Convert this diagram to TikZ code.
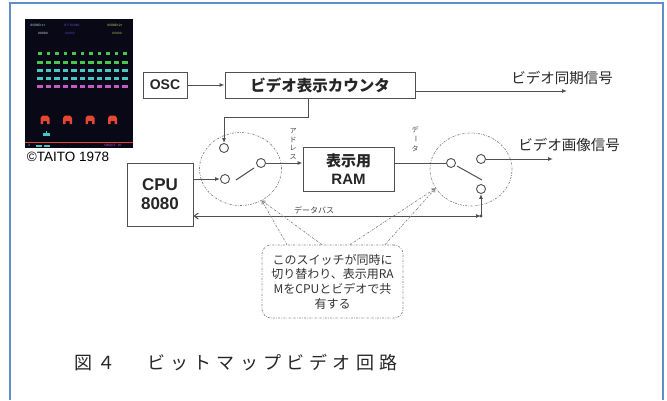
\documentclass[tikz,border=0pt]{standalone}
\usepackage{fontspec}
\setmainfont{Liberation Sans}
\newfontfamily\jp{Noto Sans CJK JP}
\newfontfamily\jpwide[LetterSpace=29]{Noto Sans CJK JP}
\usetikzlibrary{arrows.meta,shapes.geometric}

\definecolor{frameblue}{RGB}{95,142,205}
\definecolor{wiregray}{RGB}{80,80,80}
\definecolor{screenblack}{RGB}{8,8,22}
\definecolor{invgreen}{RGB}{70,200,80}
\definecolor{invcyan}{RGB}{70,200,200}
\definecolor{invpink}{RGB}{200,90,200}
\definecolor{invblue}{RGB}{90,80,200}
\definecolor{invyellow}{RGB}{210,210,90}
\definecolor{shieldred}{RGB}{230,70,50}

\tikzset{
  box/.style={draw=wiregray, line width=1pt, fill=white, inner sep=0pt, text=black!85},
  wire/.style={draw=wiregray, line width=1pt},
  arr/.style={-{Latex[length=5pt,width=4pt]}},
  term/.style={circle, draw=wiregray, line width=0.9pt, fill=white, minimum size=9pt, inner sep=0pt},
  selector/.style={ellipse, draw=gray, line width=0.7pt, dash pattern=on 2pt off 1.3pt on 0.6pt off 1.3pt,
    minimum width=82pt, minimum height=73pt, inner sep=0pt},
  remark/.style={draw=gray, line width=0.7pt, dash pattern=on 2pt off 1.3pt on 0.6pt off 1.3pt},
  scoretxt/.style={inner sep=0pt, font=\ttfamily\fontsize{3.6}{4}\selectfont},
  vlabel/.style={inner sep=0pt, text=black!75, font=\jp\fontsize{7}{7}\selectfont},
}

\begin{document}
\begin{tikzpicture}[x=1pt,y=-1pt]
\useasboundingbox (0,0) rectangle (667,400);
% frame
\draw[frameblue, line width=1.6pt] (10,400) -- (10,3) -- (663,3) -- (663,400);

% game screen
\fill[screenblack] (25,19) rectangle (133,148);
\node[scoretxt, text=invcyan!50!white] (score1) at (38,25) {SCORE<1>};
\node[scoretxt, text=invblue] (hiscore) at (72,25) {HI-SCORE};
\node[scoretxt, text=invyellow] (score2) at (115,25) {SCORE<2>};
\node[scoretxt, text=white] (pts1) at (43,33) {00000};
\node[scoretxt, text=invblue] (ptshi) at (70,33) {00000};
\node[scoretxt, text=invyellow] (pts2) at (117,33) {00000};
\foreach \y/\c/\w in {53/invgreen/3.5,62/invgreen/5.5,70/invcyan/5.5,78/invcyan/5.5,86/invpink/5.5}
  \foreach \i in {0,...,10}
    \fill[\c] (40+8.5*\i-\w/2,\y-1.5) rectangle ++(\w,3);
\foreach \x in {45,67.5,90,112.5}
  \fill[shieldred] (\x-4.5,124) -- (\x-4.5,118) -- (\x-2.5,115.5) -- (\x+2.5,115.5) -- (\x+4.5,118)
    -- (\x+4.5,124) -- (\x+2,124) -- (\x+2,121) -- (\x-2,121) -- (\x-2,124) -- cycle;
\fill[invcyan] (43,133) rectangle (50,135.5);
\fill[invcyan] (45.7,131.3) rectangle (47.3,133);
\draw[shieldred, line width=0.8pt] (25,142) -- (133,142);
\node[scoretxt, text=invcyan] (lives) at (29,145.5) {3};
\foreach \x in {36,44}
  \fill[invcyan] (\x,145) rectangle ++(6,2);
\node[scoretxt, text=invpink] (credit) at (113,145.5) {CREDIT 00};
\node[inner sep=0pt, font=\fontsize{13.5}{14}\selectfont] (taito) at (68,157) {©TAITO 1978};

% blocks
\node[box, minimum width=44pt, minimum height=26pt, font=\bfseries\fontsize{14}{16}\selectfont] (osc) at (165,85) {OSC};
\node[box, minimum width=190pt, minimum height=26pt, font=\jp\bfseries\fontsize{15.5}{17}\selectfont] (cnt) at (320,85) {ビデオ表示カウンタ};
\node[box, minimum width=66pt, minimum height=63pt, align=center, font=\bfseries\fontsize{17}{19}\selectfont] (cpu) at (160,194.5) {CPU\\8080};
\node[box, minimum width=91pt, minimum height=44pt, align=center, font=\bfseries\fontsize{15}{18}\selectfont] (ram) at (348.5,169) {{\jp 表示用}\\RAM};

% switches
\node[selector] (selL) at (240.5,169) {};
\node[selector] (selR) at (471,169.5) {};
\node[term] (swLa) at (224,148) {};
\node[term] (swLb) at (225,179) {};
\node[term] (swLc) at (261,163) {};
\node[term] (swRa) at (451,163) {};
\node[term] (swRb) at (481,159) {};
\node[term] (swRc) at (481,189) {};
\draw[wire] (236,180) -- (254,168);
\draw[wire] (457,166) -- (482,180);

% signals
\coordinate (sync) at (567,91);
\coordinate (vout) at (553,159);
\coordinate (busR) at (481,216);
\draw[wire, arr] (osc) -- (cnt);
\draw[wire, arr] ([yshift=-6pt]cnt.east) -- (sync);
\draw[wire, arr] ([xshift=-12pt]cnt.south) -- ++(0,19) -| (swLa.north);
\draw[wire, arr] (cpu.east |- swLb) -- (swLb);
\draw[wire, arr] (swLc) -- (swLc -| ram.west);
\draw[wire] (swRa -| ram.east) -- (swRa);
\draw[wire, arr] (swRb) -- (vout);
\draw[wire, {Straight Barb[length=4pt,width=6pt]}-{Latex[length=5pt,width=4pt]}] (busR -| cpu.east) -- (busR);
\fill[wiregray] (busR) circle (1.6);
\draw[wire, arr] (busR) -- (swRc);

\node[inner sep=0pt, text=black!85, font=\jp\fontsize{14.5}{16}\selectfont] (synctxt) at (562,78) {ビデオ同期信号};
\node[inner sep=0pt, text=black!85, font=\jp\fontsize{14.5}{16}\selectfont] (vouttxt) at (569,145) {ビデオ画像信号};
\node[inner sep=0pt, text=black!75, font=\jp\fontsize{8}{8}\selectfont] (bustxt) at (314,210) {データバス};
\node[vlabel] (addrtxt) at (293,144) {\shortstack{ア\\ド\\レ\\ス}};
\node[vlabel] (datatxt) at (415,139) {\shortstack{デ\\\rotatebox{-90}{ー}\\タ}};

% remark on the shared RAM
\node[remark, rounded corners=9pt, minimum width=141pt, minimum height=73pt, align=center, inner sep=0pt,
  text=black!80, font=\jp\fontsize{12}{14.7}\selectfont] (note) at (332.5,281.5)
  {このスイッチが同時に\\切り替わり、表示用RA\\MをCPUとビデオで共\\有する};
\draw[remark, -{Straight Barb[length=3pt,width=4pt]}] ([xshift=-45.5pt]note.north) -- (selL.-56);
\draw[remark, -{Straight Barb[length=3pt,width=4pt]}] ([xshift=-10.5pt]note.north) -- (selL.-56);
\draw[remark, -{Straight Barb[length=3pt,width=4pt]}] ([xshift=17.5pt]note.north) -- (selR.208);
\draw[remark, -{Straight Barb[length=3pt,width=4pt]}] ([xshift=52.5pt]note.north) -- (selR.208);

% caption
\node[anchor=west, inner sep=0pt, text=black!85, font=\jpwide\fontsize{18}{20}\selectfont] (fignum) at (74,363) {図４};
\node[anchor=west, inner sep=0pt, text=black!85, font=\jpwide\fontsize{18}{20}\selectfont] (figtitle) at (147,363) {ビットマップビデオ回路};
\end{tikzpicture}
\end{document}
